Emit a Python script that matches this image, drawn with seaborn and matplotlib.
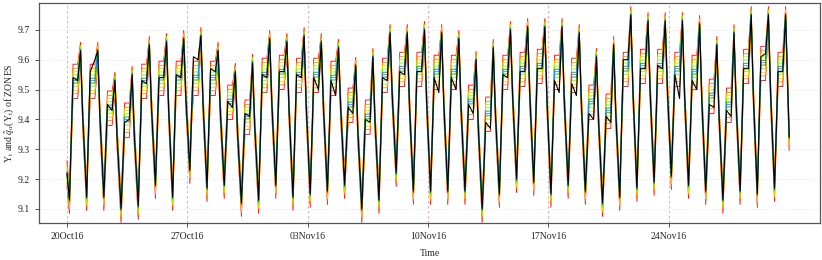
#!/usr/bin/env python3
""" Quantile forecasts of the ZONES load against the observed series.

"""
import matplotlib
matplotlib.use("Agg")
import matplotlib.pyplot as plt
import matplotlib.dates as mdates
import pandas as pd
import seaborn as sns

start_day = "2016-10-20"
trough = [9.13, 9.14, 9.14, 9.10, 9.11, 9.18, 9.14, 9.23, 9.17, 9.18, 9.12, 9.13, 9.18, 9.14,
          9.15, 9.16, 9.18, 9.10, 9.13, 9.22, 9.16, 9.16, 9.16, 9.16, 9.10, 9.15, 9.20, 9.19,
          9.15, 9.18, 9.16, 9.12, 9.14, 9.17, 9.19, 9.21, 9.18, 9.16, 9.13, 9.16, 9.15, 9.17]
rise = [9.33, 9.35, 9.29, 9.24, 9.32, 9.36, 9.34, 9.42, 9.37, 9.32, 9.27, 9.34, 9.37, 9.34,
        9.34, 9.34, 9.31, 9.25, 9.33, 9.39, 9.36, 9.35, 9.35, 9.30, 9.24, 9.35, 9.38, 9.38,
        9.34, 9.35, 9.29, 9.26, 9.37, 9.37, 9.38, 9.38, 9.35, 9.30, 9.28, 9.36, 9.38, 9.36]
plateau_am = [9.54, 9.56, 9.45, 9.39, 9.53, 9.54, 9.55, 9.61, 9.57, 9.46, 9.42, 9.55, 9.56, 9.55,
              9.54, 9.53, 9.44, 9.40, 9.54, 9.56, 9.56, 9.54, 9.54, 9.45, 9.39, 9.55, 9.56, 9.57,
              9.53, 9.52, 9.42, 9.41, 9.60, 9.57, 9.58, 9.55, 9.53, 9.45, 9.43, 9.57, 9.61, 9.56]
plateau_pm = [9.53, 9.60, 9.43, 9.40, 9.52, 9.54, 9.54, 9.60, 9.56, 9.44, 9.41, 9.54, 9.56, 9.54,
              9.50, 9.48, 9.42, 9.39, 9.53, 9.55, 9.56, 9.49, 9.50, 9.42, 9.37, 9.54, 9.56, 9.57,
              9.49, 9.48, 9.40, 9.39, 9.60, 9.57, 9.57, 9.47, 9.50, 9.44, 9.41, 9.57, 9.62, 9.56]
peak = [9.63, 9.63, 9.53, 9.55, 9.65, 9.66, 9.67, 9.68, 9.63, 9.56, 9.59, 9.67, 9.66, 9.68,
        9.66, 9.64, 9.58, 9.61, 9.69, 9.69, 9.70, 9.69, 9.67, 9.60, 9.64, 9.70, 9.71, 9.71,
        9.71, 9.69, 9.61, 9.65, 9.75, 9.73, 9.73, 9.73, 9.72, 9.65, 9.69, 9.75, 9.75, 9.75]
late = [9.41, 9.41, 9.34, 9.35, 9.44, 9.43, 9.47, 9.45, 9.43, 9.36, 9.38, 9.45, 9.43, 9.44,
        9.44, 9.44, 9.36, 9.39, 9.48, 9.45, 9.46, 9.45, 9.44, 9.38, 9.42, 9.48, 9.48, 9.46,
        9.47, 9.45, 9.39, 9.42, 9.49, 9.49, 9.50, 9.48, 9.47, 9.42, 9.45, 9.48, 9.49, 9.50]
# Forecast median on the daytime plateau.
plateau_fc = [9.53, 9.53, 9.44, 9.40, 9.53, 9.54, 9.54, 9.54, 9.54, 9.46, 9.41, 9.55, 9.56, 9.55,
              9.55, 9.54, 9.45, 9.41, 9.55, 9.57, 9.57, 9.56, 9.56, 9.46, 9.42, 9.56, 9.57, 9.58,
              9.56, 9.55, 9.46, 9.43, 9.57, 9.58, 9.58, 9.57, 9.56, 9.48, 9.45, 9.58, 9.59, 9.57]
first_value = 9.22
last_value = 9.34

# Quantile levels and their distance from the median at each part of the day.
quantile_levels = [0.01, 0.05, 0.1, 0.25, 0.4, 0.5, 0.6, 0.75, 0.9, 0.95, 0.99]
quantile_colors = ["red", "darkorange", "gold", "lawngreen", "forestgreen", "dodgerblue",
                   "forestgreen", "lawngreen", "gold", "darkorange", "red"]
spread_trough = [-0.045, -0.033, -0.025, -0.014, -0.006, 0.0, 0.006, 0.014, 0.022, 0.030, 0.042]
spread_slope = [-0.040, -0.030, -0.022, -0.012, -0.005, 0.0, 0.005, 0.012, 0.022, 0.030, 0.040]
spread_plateau = [-0.060, -0.044, -0.033, -0.019, -0.008, 0.0, 0.008, 0.019, 0.030, 0.040, 0.055]
spread_peak = [-0.040, -0.029, -0.021, -0.012, -0.005, 0.0, 0.005, 0.010, 0.015, 0.020, 0.028]

week_ticks = ["2016-10-20", "2016-10-27", "2016-11-03", "2016-11-10", "2016-11-17", "2016-11-24"]
y_ticks = [9.1, 9.2, 9.3, 9.4, 9.5, 9.6, 9.7]


if __name__ == "__main__":
    days = pd.date_range(start_day, periods=len(trough), freq="D")
    key_hours = {"trough": 3.5, "rise": 6.0, "am": 8.5, "pm": 15.0, "peak": 19.0, "late": 22.0}
    spreads = {"trough": spread_trough, "rise": spread_slope, "am": spread_plateau,
               "pm": spread_plateau, "peak": spread_peak, "late": spread_slope}

    times, obs, med, part = [days[0]], [first_value], [first_value], ["trough"]
    for i, d in enumerate(days):
        for name, o, m in (("trough", trough[i], trough[i]),
                           ("rise", rise[i], rise[i]),
                           ("am", plateau_am[i], plateau_fc[i]),
                           ("pm", plateau_pm[i], plateau_fc[i]),
                           ("peak", peak[i], peak[i]),
                           ("late", late[i], late[i])):
            times.append(d + pd.Timedelta(hours=key_hours[name]))
            obs.append(o)
            med.append(m)
            part.append(name)
    times.append(days[-1] + pd.Timedelta(days=1))
    obs.append(last_value)
    med.append(last_value)
    part.append("trough")

    df_obs = pd.DataFrame({"Time": times, "value": obs})
    frames = []
    for k, q in enumerate(quantile_levels):
        frames.append(pd.DataFrame({
            "Time": times,
            "value": [m + spreads[p][k] for m, p in zip(med, part)],
            "quantile": q,
        }))
    df_q = pd.concat(frames, ignore_index=True)

    sns.set_style("white")
    plt.rcParams["font.family"] = ["Liberation Serif", "DejaVu Serif"]
    plt.rcParams["mathtext.fontset"] = "stix"

    fig = plt.figure(figsize=(8.22, 2.60), dpi=100)
    ax = fig.add_axes((39 / 822, 37 / 260, 781 / 822, 220 / 260))

    # outer quantiles first, the median last
    order = [0, 10, 1, 9, 2, 8, 3, 7, 4, 6, 5]
    for k in order:
        sns.lineplot(
            data=df_q.loc[df_q["quantile"] == quantile_levels[k]],
            x="Time", y="value", color=quantile_colors[k],
            linewidth=0.6, estimator=None, sort=False, ax=ax,
            solid_joinstyle="round",
        )
    sns.lineplot(data=df_obs, x="Time", y="value", color="black",
                 linewidth=0.8, estimator=None, sort=False, ax=ax,
                 solid_joinstyle="round")

    ax.set_xlim(pd.Timestamp("2016-10-18 09:00"), pd.Timestamp("2016-12-02 19:00"))
    ax.set_ylim(9.053, 9.79)
    ax.set_yticks(y_ticks)
    ax.set_yticklabels([f"{v:.1f}" for v in y_ticks])
    ax.set_xticks([pd.Timestamp(t) for t in week_ticks])
    ax.xaxis.set_major_formatter(mdates.DateFormatter("%d%b%y"))

    for t in week_ticks:
        ax.axvline(pd.Timestamp(t), color="#f0a0a0", linestyle=(0, (3, 3)), linewidth=0.6, zorder=0)
    for v in y_ticks:
        ax.axhline(v, color="#dddddd", linestyle=(0, (1, 2)), linewidth=0.6, zorder=0)

    ax.tick_params(axis="both", labelsize=7, length=3, width=0.6, color="#333333",
                   direction="out", bottom=True, left=True)
    for s in ax.spines.values():
        s.set_color("#555555")
        s.set_linewidth(0.9)

    ax.set_xlabel("Time", fontsize=7, labelpad=6)
    ax.set_ylabel(r"Y$_\mathrm{t}$ and $\hat{q}_\alpha$(Y$_\mathrm{t}$) of ZONES", fontsize=7)
    ax.yaxis.set_label_coords(-0.029, 0.5)

    fig.savefig("out.png", dpi=100)
